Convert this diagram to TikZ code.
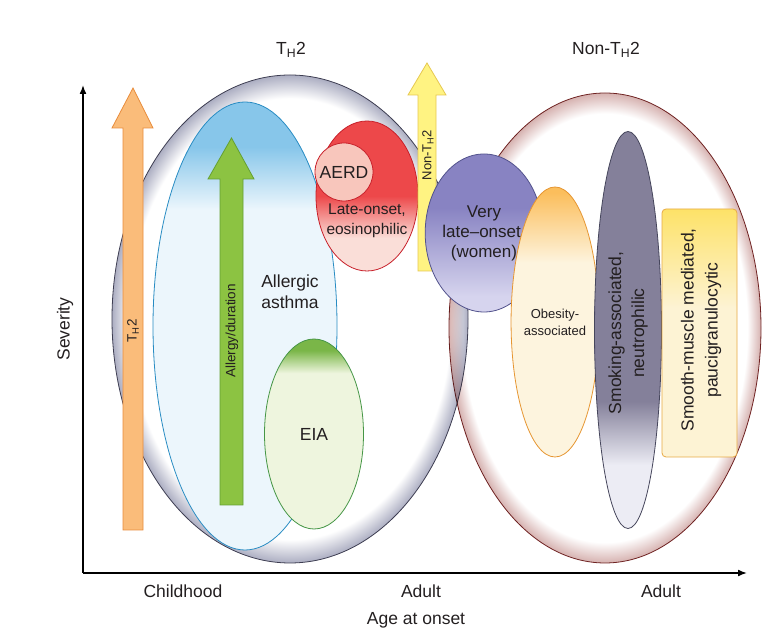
\documentclass[tikz,border=0pt]{standalone}
\usepackage{fontspec}
\setmainfont{Liberation Sans}
\usetikzlibrary{shapes.geometric,arrows.meta}

\definecolor{txt}{RGB}{35,31,32}
\definecolor{thrim}{RGB}{172,174,194}
\definecolor{thline}{RGB}{62,62,82}
\definecolor{nonrimc}{RGB}{214,178,176}
\definecolor{nonline}{RGB}{122,42,42}
\definecolor{bluesky}{RGB}{135,198,234}
\definecolor{bluepale}{RGB}{236,246,252}
\definecolor{blueline}{RGB}{40,140,195}
\definecolor{greentop}{RGB}{122,182,72}
\definecolor{greenpale}{RGB}{238,245,222}
\definecolor{greenline}{RGB}{70,150,70}
\definecolor{redtop}{RGB}{237,72,74}
\definecolor{redpale}{RGB}{250,222,216}
\definecolor{redline}{RGB}{200,32,42}
\definecolor{aerdfill}{RGB}{248,198,188}
\definecolor{purpletop}{RGB}{136,131,194}
\definecolor{purplepale}{RGB}{214,212,238}
\definecolor{purpleline}{RGB}{82,82,140}
\definecolor{orangetop}{RGB}{251,190,92}
\definecolor{creampale}{RGB}{253,244,222}
\definecolor{orangeline}{RGB}{230,150,50}
\definecolor{greydark}{RGB}{132,128,154}
\definecolor{greypale}{RGB}{236,236,244}
\definecolor{greyline}{RGB}{70,70,92}
\definecolor{yellowtop}{RGB}{253,226,104}
\definecolor{yellowpale}{RGB}{253,243,212}
\definecolor{yellowline}{RGB}{232,170,70}
\definecolor{thfill}{RGB}{250,188,122}
\definecolor{thedge}{RGB}{232,140,60}
\definecolor{durfill}{RGB}{140,195,66}
\definecolor{duredge}{RGB}{100,160,50}
\definecolor{nonfill}{RGB}{255,243,130}
\definecolor{nonedge}{RGB}{230,200,80}

\pgfdeclareradialshading{thtworim}{\pgfpoint{0bp}{0bp}}{color(0bp)=(white); color(22.6bp)=(white); color(25bp)=(thrim); color(50bp)=(thrim)}
\pgfdeclareradialshading{nonrim}{\pgfpoint{0bp}{0bp}}{color(0bp)=(white); color(22.8bp)=(white); color(25bp)=(nonrimc); color(50bp)=(nonrimc)}
\pgfdeclareverticalshading{allergyfade}{100bp}{color(0bp)=(bluepale); color(63bp)=(bluepale); color(70bp)=(bluesky); color(100bp)=(bluesky)}
\pgfdeclareverticalshading{eiafade}{100bp}{color(0bp)=(greenpale); color(66bp)=(greenpale); color(72bp)=(greentop); color(100bp)=(greentop)}
\pgfdeclareverticalshading{latefade}{100bp}{color(0bp)=(redpale); color(36bp)=(redpale); color(50bp)=(redtop); color(100bp)=(redtop)}
\pgfdeclareverticalshading{verylatefade}{100bp}{color(0bp)=(purplepale); color(30bp)=(purplepale); color(58bp)=(purpletop); color(100bp)=(purpletop)}
\pgfdeclareverticalshading{obesityfade}{100bp}{color(0bp)=(creampale); color(61bp)=(creampale); color(74bp)=(orangetop); color(100bp)=(orangetop)}
\pgfdeclareverticalshading{smokingfade}{100bp}{color(0bp)=(greypale); color(33bp)=(greypale); color(41bp)=(greydark); color(100bp)=(greydark)}
\pgfdeclareverticalshading{smoothfade}{100bp}{color(0bp)=(yellowpale); color(55bp)=(yellowpale); color(75bp)=(yellowtop); color(100bp)=(yellowtop)}

\begin{document}
\begin{tikzpicture}[x=1pt, y=1pt,
  every node/.style={text=txt, font=\fontsize{17.5}{21}\selectfont},
  blob/.style={shape=ellipse, inner sep=0pt, line width=0.8pt},
  blockarrow/.style={line width=0.8pt, line join=miter},
  axisline/.style={line width=1.6pt, -{Latex[length=9pt,width=7pt]}},
  smalltext/.style={font=\fontsize{13.5}{16}\selectfont},
  midtext/.style={font=\fontsize{15.5}{20}\selectfont}]
\useasboundingbox (0,0) rectangle (777,642);

% big groups
\node[blob, minimum width=356, minimum height=488, shading=thtworim, draw=thline] (th2) at (290,323) {};
\begin{scope}[blend mode=multiply]
\node[blob, minimum width=312, minimum height=470, shading=nonrim, draw=nonline] (nonth2) at (605,314) {};
\end{scope}
\node (th2title) at (291,592) {T\textsubscript{H}2};
\node (nontitle) at (606,592) {Non-T\textsubscript{H}2};

% T_H2 side
\node[blob, minimum width=184, minimum height=448, shading=allergyfade, draw=blueline] (allergic) at (245,316) {};
\node[align=center] (allergiclbl) at (290,350) {Allergic\\asthma};
\node[blob, minimum width=99, minimum height=190, shading=eiafade, draw=greenline] (eia) at (314,208) {EIA};
\draw[blockarrow, fill=durfill, draw=duredge] (220,137) -- (220,463) -- (208,463) -- (231.5,504) -- (254,463) -- (243,463) -- (243,137) -- cycle;
\node[rotate=90, smalltext] (durlbl) at (232,311) {Allergy/duration};
\draw[blockarrow, fill=thfill, draw=thedge] (123,112) -- (123,514) -- (112,514) -- (133,554) -- (153,514) -- (143,514) -- (143,112) -- cycle;
\node[rotate=90, smalltext] (thlbl) at (133,311) {T\textsubscript{H}2};
\node[blob, minimum width=102, minimum height=150, shading=latefade, draw=redline] (late) at (367,446) {};
\node[circle, minimum size=58, inner sep=0pt, fill=aerdfill, draw=redline, line width=0.8pt] (aerd) at (344,470) {AERD};
\node[align=center, midtext] (latelbl) at (367,421) {Late-onset,\\eosinophilic};
\draw[blockarrow, fill=nonfill, draw=nonedge] (418,371) -- (418,547) -- (408,547) -- (427,579) -- (446,547) -- (436,547) -- (436,371) -- cycle;
\node[rotate=90, font=\fontsize{13}{15}\selectfont] (nonlbl) at (428,487) {Non-T\textsubscript{H}2};

% non-T_H2 side
\node[blob, minimum width=97, minimum height=158, shading=verylatefade, draw=purpleline, align=center, font=\fontsize{17}{20}\selectfont] (verylate) at (484,409) {Very\\late--onset,\\(women)};
\node[blob, minimum width=80, minimum height=270, shading=obesityfade, draw=orangeline, align=center, font=\fontsize{13}{17}\selectfont] (obesity) at (555,320) {Obesity-\\associated};
\node[blob, minimum width=67, minimum height=397, shading=smokingfade, draw=greyline] (smoking) at (628,312) {};
\node[rotate=90, align=center, font=\fontsize{17.5}{23}\selectfont] (smokinglbl) at (628,309) {Smoking-associated,\\neutrophilic};
\node[rectangle, rounded corners=4pt, minimum width=75, minimum height=248, shading=smoothfade, draw=yellowline, line width=0.8pt] (smooth) at (699.5,309) {};
\node[rotate=90, align=center, font=\fontsize{17.5}{24}\selectfont] (smoothlbl) at (701,312) {Smooth-muscle mediated,\\paucigranulocytic};

% axes
\coordinate (origin) at (83,69);
\coordinate (ytop) at (83,557);
\coordinate (xend) at (747,69);
\draw[axisline] (origin) -- (ytop);
\draw[axisline] (origin) -- (xend);
\node[rotate=90] (severity) at (65,313) {Severity};
\node (childhood) at (183,51) {Childhood};
\node (adultmid) at (421,51) {Adult};
\node (adultright) at (661,51) {Adult};
\node (onset) at (416,22) {Age at onset};
\end{tikzpicture}
\end{document}
